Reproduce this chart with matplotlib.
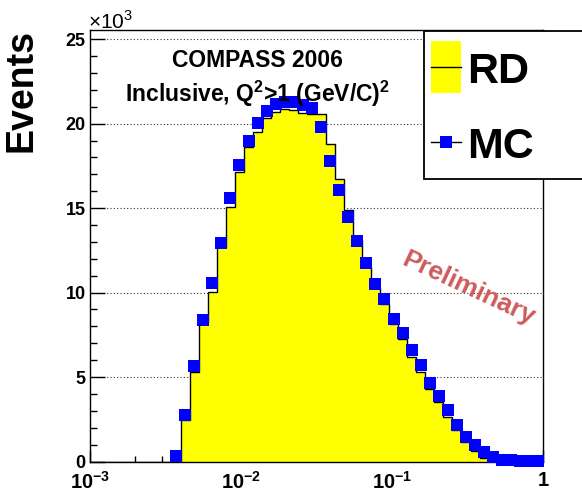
import numpy as np
import matplotlib
matplotlib.use("Agg")
import matplotlib.pyplot as plt
from matplotlib.patches import Rectangle
from matplotlib.ticker import MultipleLocator, FixedLocator, FixedFormatter, LogLocator, NullFormatter

plt.rcParams['font.family'] = ['Liberation Sans', 'DejaVu Sans']
plt.rcParams['mathtext.fontset'] = 'custom'
plt.rcParams['mathtext.rm'] = 'Liberation Sans'
plt.rcParams['mathtext.bf'] = 'Liberation Sans:bold'

# 50 log bins in x from 1e-3 to 1, counts in units of 10^3 events
bin_edges = np.logspace(-3, 0, 51)
rd_counts = [0, 0, 0, 0, 0, 0, 0, 0, 0, 0,
             2.43, 5.3, 8.2, 10.04, 12.7, 15.08, 17.16, 18.64, 19.5, 20.33,
             20.72, 20.86, 20.82, 20.66, 20.58, 20.55, 18.8, 16.7, 14.9, 13.1,
             11.5, 10.3, 9.35, 8.15, 7.25, 6.2, 5.3, 4.3, 3.5, 2.65,
             1.85, 1.15, 0.6, 0.2, 0, 0, 0, 0, 0, 0]
mc_counts = [0, 0, 0, 0, 0, 0, 0, 0, 0, 0.35,
             2.73, 5.65, 8.36, 10.54, 12.91, 15.58, 17.56, 18.98, 20.03, 20.78,
             21.17, 21.31, 21.31, 21.1, 20.95, 19.79, 17.8, 16.07, 14.45, 13.05,
             11.76, 10.52, 9.61, 8.46, 7.63, 6.58, 5.69, 4.64, 3.86, 3.02,
             2.18, 1.48, 0.95, 0.55, 0.26, 0.1, 0.06, 0.05, 0.04, 0.04]
x_ticks = [1e-3, 1e-2, 1e-1, 1]
x_ticklabels = [r'$\mathbf{10^{-3}}$', r'$\mathbf{10^{-2}}$', r'$\mathbf{10^{-1}}$', r'$\mathbf{1}$']
y_ticks = [0, 5, 10, 15, 20, 25]

W, H = 582, 492
fig = plt.figure(figsize=(W / 100, H / 100), dpi=100)
ax = fig.add_axes([90 / W, 1 - 461.5 / H, 453 / W, (461.5 - 30) / H])

mc_centers = np.sqrt(bin_edges[:-1] * bin_edges[1:])
ax.stairs(rd_counts, bin_edges, fill=True, color='#ffff00', zorder=2)
ax.stairs(rd_counts, bin_edges, color='black', lw=1.0, zorder=3)
mc_mask = np.array(mc_counts) > 0
ax.plot(mc_centers[mc_mask], np.array(mc_counts)[mc_mask], 's', color='#0000ff',
        markersize=9.2, markeredgewidth=0, zorder=4, clip_on=False)

ax.set_xscale('log')
ax.set_xlim(1e-3, 1)
ax.set_ylim(0, (461.5 - 30) / 16.89)

ax.xaxis.set_major_locator(FixedLocator(x_ticks))
ax.xaxis.set_major_formatter(FixedFormatter(x_ticklabels))
ax.xaxis.set_minor_locator(LogLocator(base=10, subs=np.arange(2, 10)))
ax.xaxis.set_minor_formatter(NullFormatter())
ax.yaxis.set_major_locator(FixedLocator(y_ticks))
ax.yaxis.set_minor_locator(MultipleLocator(1))

ax.tick_params(which='both', direction='in', top=False, right=False, width=1.0)
ax.tick_params(axis='y', which='major', length=11, pad=3, labelsize=13)
ax.tick_params(axis='y', which='minor', length=5)
ax.tick_params(axis='x', which='major', length=8.5, pad=7, labelsize=14.5)
ax.tick_params(axis='x', which='minor', length=4.3)
for lab in ax.get_yticklabels():
    lab.set_fontweight('bold')

ax.yaxis.grid(True, which='major', linestyle=(0, (1, 2)), color='#333333', lw=0.8)
ax.set_axisbelow(True)
for sp in ax.spines.values():
    sp.set_linewidth(1.0)

# overlay in pixel coordinates for labels and the legend box
ov = fig.add_axes([0, 0, 1, 1], facecolor='none')
ov.set_xlim(0, W)
ov.set_ylim(H, 0)
ov.axis('off')

ov.text(21, 90, 'Events', rotation=90, ha='center', va='center',
        fontsize=27, fontweight='bold')
ov.text(88, 28.3, r'$\times$10$^{3}$', ha='left', va='baseline', fontsize=15)
ov.text(257, 67.3, 'COMPASS 2006', ha='center', va='baseline',
        fontsize=16.5, fontweight='bold')
ov.text(257, 101.7, r'Inclusive, Q$^{\mathbf{2}}$>1 (GeV/C)$^{\mathbf{2}}$',
        ha='center', va='baseline', fontsize=16.5, fontweight='bold')
ov.text(468, 288, 'Preliminary', rotation=-25, ha='center', va='center',
        rotation_mode='anchor', fontsize=19, fontweight='bold', color='#cd5c5c')

ov.add_patch(Rectangle((424, 31), 180, 148, facecolor='white', edgecolor='black',
                       lw=1.3, clip_on=False, zorder=5))
ov.add_patch(Rectangle((431, 41), 30, 52, facecolor='#ffff00', edgecolor='none', zorder=6))
ov.plot([431, 461], [67, 67], color='black', lw=1.0, zorder=7)
ov.text(467, 82.7, 'RD', ha='left', va='baseline', fontsize=31,
        fontweight='bold', zorder=7)
ov.plot([431, 461], [142, 142], color='black', lw=1.0, zorder=6)
ov.plot([446], [142], 's', color='#0000ff', markersize=9.2, markeredgewidth=0, zorder=7)
ov.text(467, 158.3, 'MC', ha='left', va='baseline', fontsize=31,
        fontweight='bold', zorder=7)

fig.savefig('out.png', dpi=100)
